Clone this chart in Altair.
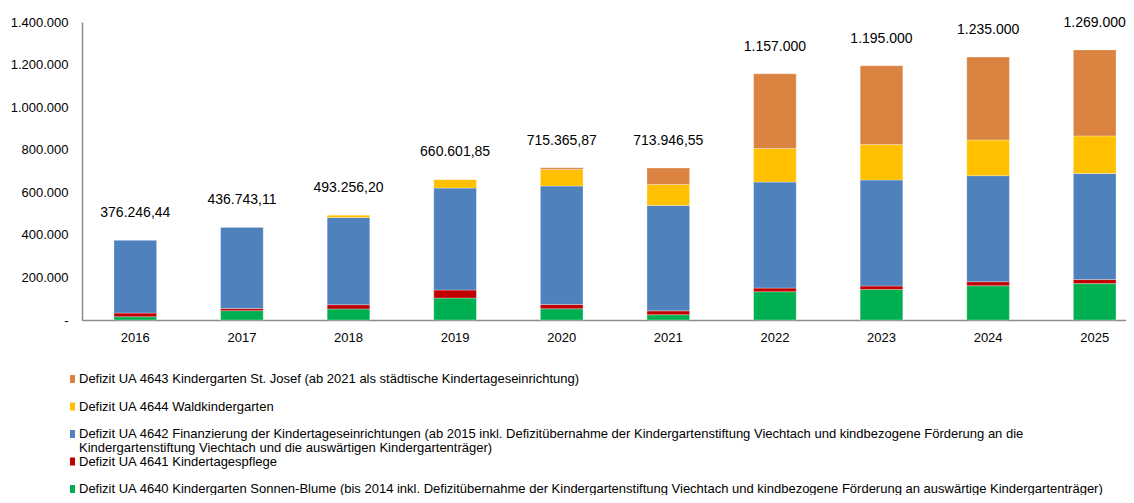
import altair as alt
import pandas as pd

years = [2016, 2017, 2018, 2019, 2020, 2021, 2022, 2023, 2024, 2025]
ua4640 = [15600, 44000, 52000, 103000, 53000, 25000, 133000, 143000, 161000, 171000]
ua4641 = [17000, 10000, 20000, 38000, 20000, 18000, 17000, 17000, 19000, 19000]
ua4642 = [343646, 382743, 409256, 478602, 556366, 495000, 498000, 498000, 498000, 498000]
ua4644 = [0, 0, 12000, 41000, 78000, 99000, 158000, 166000, 168000, 177000]
ua4643 = [0, 0, 0, 0, 8000, 76947, 351000, 371000, 389000, 404000]
totals = [376246.44, 436743.11, 493256.20, 660601.85, 715365.87, 713946.55,
          1157000, 1195000, 1235000, 1269000]
total_labels = ["376.246,44", "436.743,11", "493.256,20", "660.601,85", "715.365,87",
                "713.946,55", "1.157.000", "1.195.000", "1.235.000", "1.269.000"]

series_keys = ["UA4640", "UA4641", "UA4642", "UA4644", "UA4643"]
series_colors = ["#00B050", "#C00000", "#4F81BD", "#FFC000", "#DA8340"]
series_values = [ua4640, ua4641, ua4642, ua4644, ua4643]

legend_keys = ["UA4643", "UA4644", "UA4642", "UA4641", "UA4640"]
legend_line1 = [
    "Defizit UA 4643 Kindergarten St. Josef (ab 2021 als städtische Kindertageseinrichtung)",
    "Defizit UA 4644 Waldkindergarten",
    "Defizit UA 4642 Finanzierung  der Kindertageseinrichtungen (ab 2015 inkl. Defizitübernahme der Kindergartenstiftung Viechtach und kindbezogene Förderung an die",
    "Defizit UA 4641 Kindertagespflege",
    "Defizit UA 4640 Kindergarten Sonnen-Blume (bis 2014 inkl. Defizitübernahme der Kindergartenstiftung Viechtach und kindbezogene Förderung an auswärtige Kindergartenträger)",
]
legend_line2 = ["", "", "Kindergartenstiftung Viechtach und die auswärtigen Kindergartenträger)", "", ""]

rows = []
for si, (k, vals) in enumerate(zip(series_keys, series_values)):
    for y, v in zip(years, vals):
        rows.append({"year": str(y), "series": k, "value": v, "ord": si})
df = pd.DataFrame(rows)
df_tot = pd.DataFrame({"year": [str(y) for y in years], "total": totals, "label": total_labels})
df_leg = pd.DataFrame({"row": list(range(5)), "series": legend_keys,
                       "line1": legend_line1, "line2": legend_line2})

FONT = "Liberation Sans"
color_scale = alt.Scale(domain=series_keys, range=series_colors)
x_scale = alt.Scale(range=[0, 1066], paddingInner=0.6, paddingOuter=0.3)
y_scale = alt.Scale(domain=[0, 1400000], nice=False)

x_axis = alt.Axis(title=None, labelAngle=0, ticks=False, tickSize=0, labelPadding=11,
                  labelFontSize=13, labelFont=FONT, labelColor="#000000",
                  domain=True, domainColor="#8c8c8c", domainWidth=1.5, grid=False)

bars = alt.Chart(df).mark_bar(stroke="white", strokeWidth=0.6, strokeOpacity=0.5).encode(
    x=alt.X("year:O", scale=x_scale, sort=None, axis=x_axis),
    y=alt.Y("value:Q", stack="zero", scale=y_scale,
            axis=alt.Axis(title=None, values=[0, 200000, 400000, 600000, 800000, 1000000, 1200000, 1400000],
                          format=",.0f",
                          labelExpr="datum.value == 0 ? '-' : replace(replace(datum.label, ',', '.'), ',', '.')",
                          ticks=False, tickSize=0, grid=False, labelPadding=14,
                          labelFontSize=13, labelFont=FONT, labelColor="#000000",
                          domain=True, domainColor="#8c8c8c", domainWidth=1.5)),
    color=alt.Color("series:N", scale=color_scale, legend=None),
    order=alt.Order("ord:Q", sort="ascending"),
)

labels = alt.Chart(df_tot).mark_text(dy=-27, fontSize=14, font=FONT, color="#000000",
                                     baseline="middle", align="center").encode(
    x=alt.X("year:O", scale=x_scale, sort=None, axis=x_axis),
    y=alt.Y("total:Q", scale=y_scale, axis=None),
    text="label:N",
)

leg_y = alt.Y("row:O", axis=None, scale=alt.Scale(range=[357, 467], padding=0))
leg_sq = alt.Chart(df_leg).mark_point(
    shape="M-0.625,-1L0.625,-1L0.625,1L-0.625,1Z", size=64, filled=True, opacity=1, strokeWidth=0
).encode(
    x=alt.value(-9.5), y=leg_y,
    color=alt.Color("series:N", scale=color_scale, legend=None),
)
leg_t1 = alt.Chart(df_leg).mark_text(align="left", baseline="middle", fontSize=13, font=FONT,
                                     color="#000000").encode(
    x=alt.value(-3), y=leg_y, text="line1:N")
leg_t2 = alt.Chart(df_leg).mark_text(align="left", baseline="middle", fontSize=13, font=FONT,
                                     color="#000000", dy=13.5).encode(
    x=alt.value(-3), y=leg_y, text="line2:N")

chart = alt.layer(bars, labels, leg_sq, leg_t1, leg_t2).resolve_scale(
    y="independent"
).properties(
    width=1044, height=298,
    autosize=alt.AutoSizeParams(type="none"),
    padding={"left": 74, "top": 14, "right": 0, "bottom": 175},
).configure_view(stroke=None).configure_axis(domain=True)

chart.save("out.html", embed_options={"renderer": "svg", "actions": False})
